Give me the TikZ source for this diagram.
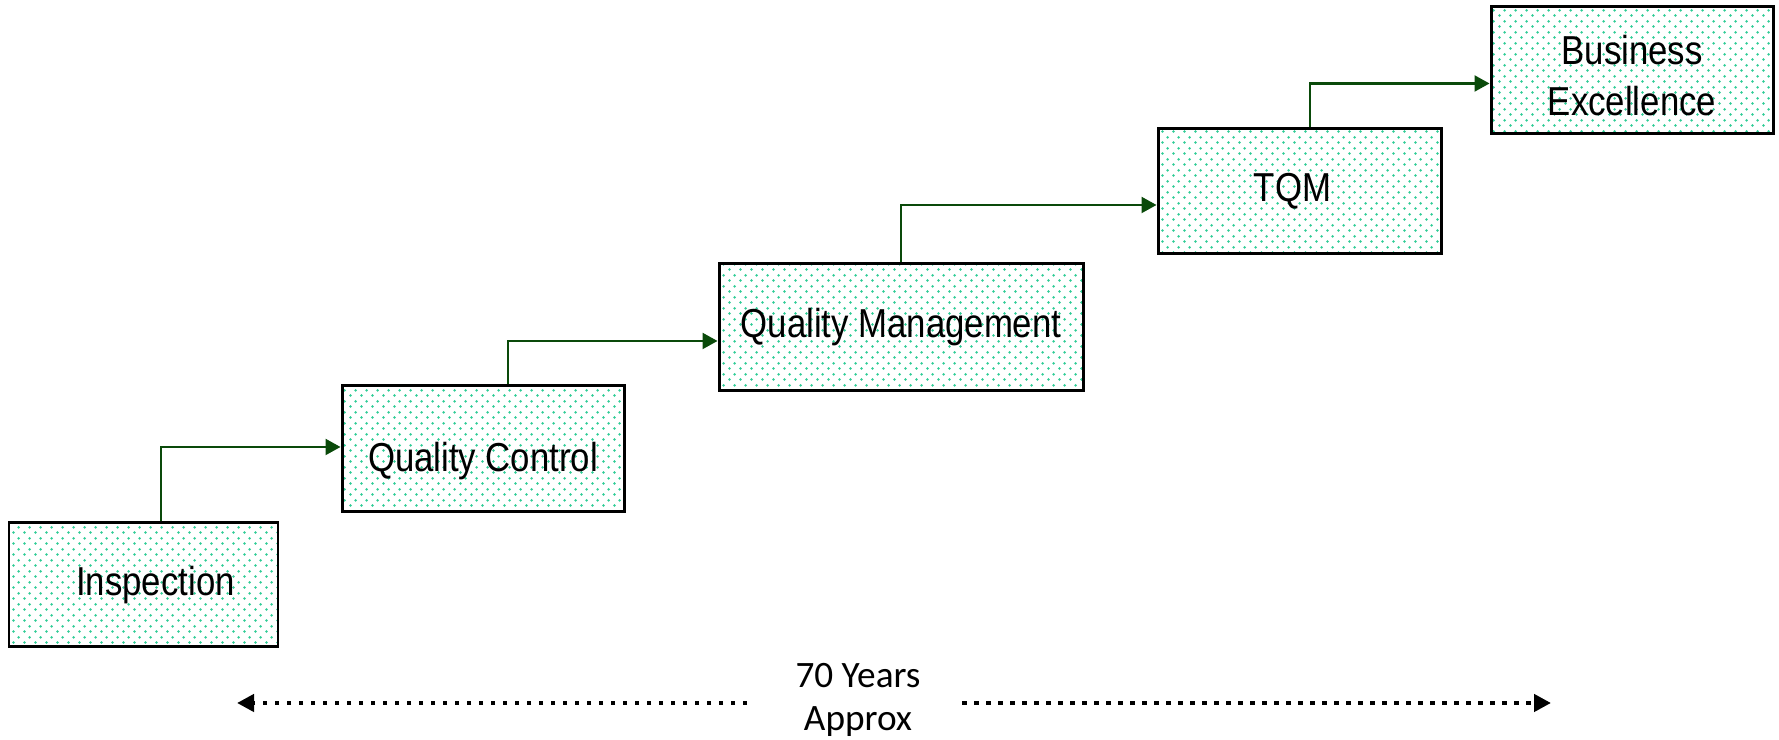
\documentclass[tikz,border=0pt]{standalone}
\usepackage{fontspec}
\setmainfont{Liberation Sans}
\newfontfamily\boxfont[FakeStretch=0.86]{Liberation Sans}
\newfontfamily\capfont{Carlito}
\usetikzlibrary{arrows.meta,patterns.meta}
\definecolor{dotcol}{HTML}{2FCC96}
\definecolor{conngreen}{HTML}{0A4A0A}
\pgfdeclarepattern{
  name=tealdots,
  type=uncolored,
  bottom left={\pgfpoint{0pt}{0pt}},
  top right={\pgfpoint{3pt}{3pt}},
  tile size={\pgfpoint{3pt}{3pt}},
  code={
    \pgfpathcircle{\pgfpoint{0.75pt}{0.75pt}}{0.42pt}
    \pgfpathcircle{\pgfpoint{2.25pt}{2.25pt}}{0.42pt}
    \pgfusepath{fill}
  }
}
\tikzset{
  stagebox/.style={draw=black, line width=0.85pt, pattern={tealdots}, pattern color=dotcol,
    minimum height=1.25cm, inner sep=0pt, align=center,
    font=\boxfont\fontsize{11.5pt}{14.5pt}\selectfont},
  conn/.style={draw=conngreen, line width=0.6pt, -{Triangle[length=0.15cm,width=0.16cm]}},
  span/.style={line width=1.3pt, dash pattern=on 0.045cm off 0.075cm, -{Triangle[length=0.17cm,width=0.17cm]}},
}
\begin{document}
\begin{tikzpicture}
\useasboundingbox (0,0) rectangle (17.79,7.40);
\node[stagebox, minimum width=2.69cm, minimum height=1.24cm] (insp) at (1.435,1.55) {\hspace*{0.24cm}Inspection};
\node[stagebox, minimum width=2.82cm, minimum height=1.26cm] (qc) at (4.83,2.91) {\rule{0pt}{15.2pt}Quality Control};
\node[stagebox, minimum width=3.64cm, minimum height=1.27cm] (qm) at (9.01,4.125) {Quality Management};
\node[stagebox, minimum width=2.83cm, minimum height=1.25cm] (tqm) at (12.995,5.485) {TQM\hspace*{0.14cm}};
\node[stagebox, minimum width=2.82cm, minimum height=1.27cm] (be) at (16.32,6.695) {\rule{0pt}{11pt}Business\\Excellence};

\draw[conn] ([xshift=0.175cm]insp.north) |- ([yshift=0.02cm]qc.west);
\draw[conn] ([xshift=0.25cm]qc.north) |- ([yshift=-0.135cm]qm.west);
\draw[conn] (qm.north) |- ([yshift=-0.135cm]tqm.west);
\draw[conn] ([xshift=0.105cm]tqm.north) |- ([yshift=-0.13cm]be.west);

\node[align=center, inner sep=0pt, font=\capfont\fontsize{10.6pt}{12pt}\selectfont] (yrs) at (8.58,0.40) {70 Years\\Approx};
\coordinate (lend) at (7.47,0.37);
\coordinate (ltip) at (2.37,0.37);
\coordinate (rstart) at (9.62,0.37);
\coordinate (rtip) at (15.51,0.37);
\draw[span] (lend) -- (ltip);
\draw[span] (rstart) -- (rtip);
\end{tikzpicture}
\end{document}
